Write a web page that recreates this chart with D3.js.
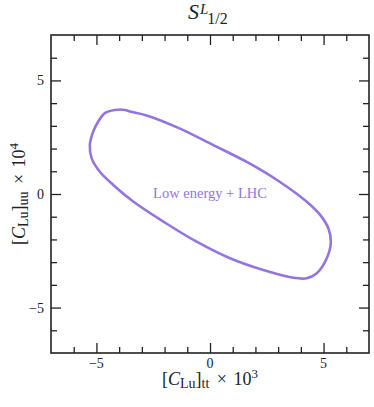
<!DOCTYPE html>
<html>
<head>
<meta charset="utf-8">
<script src="https://cdn.jsdelivr.net/npm/d3@7"></script>
<style>
  body { margin: 0; background: #fff; }
  svg text { font-family: "Liberation Serif", "Times New Roman", Times, "DejaVu Serif", serif; fill: #222; }
</style>
</head>
<body>
<div id="root"></div>
<script>
// contour, [C_Lu]_tt x 1e3 vs [C_Lu]_uu x 1e4
const contourX = [-4.19, -3.74, -3.52, -2.79, -1.32, 0.15, 1.62, 3.08, 4.26, 4.85, 5.21, 5.32, 5.14, 4.70, 4.26, 3.67, 2.35, 0.88, -0.59, -2.06, -3.38, -4.26, -4.85, -5.21, -5.29, -5.14, -4.92, -4.63];
const contourY = [3.70, 3.70, 3.63, 3.46, 2.88, 2.15, 1.41, 0.53, -0.34, -0.92, -1.51, -2.10, -2.83, -3.49, -3.71, -3.69, -3.35, -2.83, -2.10, -1.21, -0.33, 0.40, 0.98, 1.57, 2.16, 2.75, 3.19, 3.56];
const majorTicks = [-5, 0, 5];
const minorTicks = [-6, -4, -3, -2, -1, 1, 2, 3, 4, 6];
const regionLabel = 'Low energy + LHC';

const W = 374, H = 407;
const Frame = { left: 51, top: 35, right: 369, bottom: 353 };
const Purple = '#9474e0';
const Serif = '"Liberation Serif", "Times New Roman", Times, "DejaVu Serif", serif';

const svg = d3.select('#root').append('svg')
    .attr('width', W)
    .attr('height', H)
    .attr('font-family', Serif);

const x = d3.scaleLinear().domain([-7, 7]).range([Frame.left, Frame.right]);
const y = d3.scaleLinear().domain([-7, 7]).range([Frame.bottom, Frame.top]);

// ticks, inward on all four sides
function addTicks(axisFn, scale, values, size, transform) {
    const g = svg.append('g')
        .attr('transform', transform)
        .call(axisFn(scale).tickValues(values).tickSize(size).tickSizeOuter(0).tickFormat(''));
    g.select('.domain').remove();
    g.selectAll('.tick line').attr('stroke', '#222').attr('stroke-width', 1.3);
    return g;
}

addTicks(d3.axisTop, x, majorTicks, 10, `translate(0,${Frame.bottom})`);
addTicks(d3.axisTop, x, minorTicks, 6, `translate(0,${Frame.bottom})`);
addTicks(d3.axisBottom, x, majorTicks, 10, `translate(0,${Frame.top})`);
addTicks(d3.axisBottom, x, minorTicks, 6, `translate(0,${Frame.top})`);
addTicks(d3.axisRight, y, majorTicks, 10, `translate(${Frame.left},0)`);
addTicks(d3.axisRight, y, minorTicks, 6, `translate(${Frame.left},0)`);
addTicks(d3.axisLeft, y, majorTicks, 10, `translate(${Frame.right},0)`);
addTicks(d3.axisLeft, y, minorTicks, 6, `translate(${Frame.right},0)`);

// tick labels
const fmt = d => (d < 0 ? '\u2212' + Math.abs(d) : String(d));
svg.append('g').selectAll('text')
    .data(majorTicks)
    .join('text')
    .attr('x', d => x(d))
    .attr('y', Frame.bottom + 15)
    .attr('text-anchor', 'middle')
    .attr('font-size', 14)
    .text(fmt);
svg.append('g').selectAll('text')
    .data(majorTicks)
    .join('text')
    .attr('x', Frame.left - 7)
    .attr('y', d => y(d) + 5)
    .attr('text-anchor', 'end')
    .attr('font-size', 14)
    .text(fmt);

// frame
svg.append('rect')
    .attr('x', Frame.left)
    .attr('y', Frame.top)
    .attr('width', Frame.right - Frame.left)
    .attr('height', Frame.bottom - Frame.top)
    .attr('fill', 'none')
    .attr('stroke', '#222')
    .attr('stroke-width', 1.6);

// contour
const pts = contourX.map((v, i) => [v, contourY[i]]);
svg.append('path')
    .datum(pts)
    .attr('d', d3.line().x(d => x(d[0])).y(d => y(d[1])).curve(d3.curveCatmullRomClosed.alpha(0.5)))
    .attr('fill', 'none')
    .attr('stroke', Purple)
    .attr('stroke-width', 2.6)
    .attr('stroke-linejoin', 'round');

svg.append('text')
    .attr('x', x(0))
    .attr('y', y(0) + 4)
    .attr('text-anchor', 'middle')
    .attr('font-size', 14.5)
    .style('fill', Purple)
    .text(regionLabel);

// title S^L_{1/2}
const title = svg.append('text')
    .attr('x', 188)
    .attr('y', 18.5)
    .attr('font-size', 22);
title.append('tspan').attr('font-style', 'italic').text('S');
title.append('tspan').attr('font-style', 'italic').attr('font-size', 15).attr('dy', -5).attr('dx', 1).text('L');
title.append('tspan').attr('font-size', 16).attr('dy', 10).attr('dx', -1).text('1/2');

// axis labels
function axisLabel(sel, sub, pow) {
    sel.append('tspan').text('[');
    sel.append('tspan').attr('font-style', 'italic').text('C');
    sel.append('tspan').attr('font-size', 14).attr('dy', 3).text('Lu');
    sel.append('tspan').attr('dy', -3).text(']');
    sel.append('tspan').attr('font-size', 14).attr('dy', 3).text(sub);
    sel.append('tspan').attr('dy', -3).attr('dx', 3).text(' \u00d7 ');
    sel.append('tspan').attr('dx', 2).text('10');
    sel.append('tspan').attr('font-size', 13).attr('dy', -7).text(pow);
}

axisLabel(svg.append('text')
    .attr('x', x(0))
    .attr('y', 385)
    .attr('text-anchor', 'middle')
    .attr('font-size', 18), 'tt', '3');

axisLabel(svg.append('text')
    .attr('transform', `translate(25,${y(0)}) rotate(-90)`)
    .attr('text-anchor', 'middle')
    .attr('font-size', 18), 'uu', '4');
</script>
</body>
</html>
